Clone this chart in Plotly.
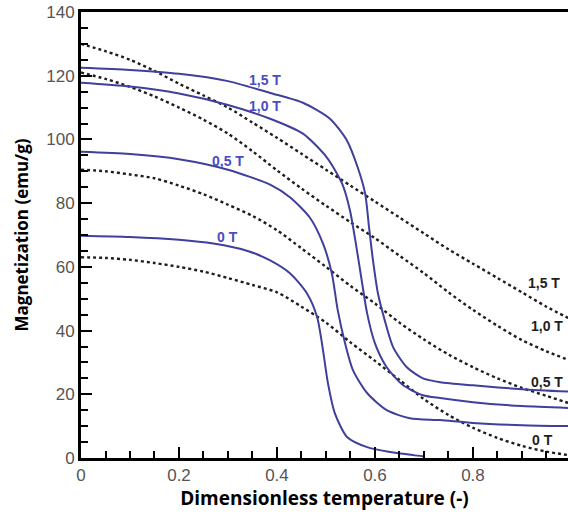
import plotly.graph_objects as go

# ---- data ----
x_s15 = [0, 0.1, 0.2, 0.3, 0.386, 0.453, 0.508, 0.543, 0.565, 0.58, 0.588, 0.596, 0.606, 0.62, 0.637, 0.665, 0.698, 0.733, 0.8, 0.9, 1.0]
y_s15 = [122.5, 121.8, 120.6, 118.3, 114.6, 111.5, 106.5, 99.6, 91.1, 83.0, 72.3, 62.0, 51.7, 43.2, 34.8, 28.5, 25.0, 23.8, 22.8, 21.6, 20.8]

x_s10 = [0, 0.1, 0.2, 0.3, 0.386, 0.453, 0.502, 0.533, 0.549, 0.561, 0.573, 0.584, 0.6, 0.624, 0.657, 0.698, 0.733, 0.8, 0.9, 1.0]
y_s10 = [117.8, 116.6, 114.4, 110.8, 106.5, 101.8, 94.3, 86.1, 77.7, 67.3, 55.7, 45.4, 36.0, 28.5, 22.9, 19.7, 18.8, 17.5, 16.3, 15.7]

x_s05 = [0, 0.1, 0.2, 0.3, 0.386, 0.427, 0.467, 0.494, 0.512, 0.524, 0.539, 0.555, 0.584, 0.624, 0.671, 0.733, 0.8, 0.9, 1.0]
y_s05 = [96.1, 95.4, 93.8, 90.5, 85.8, 81.8, 75.5, 67.3, 57.9, 46.4, 36.0, 27.6, 20.4, 15.0, 12.5, 11.9, 11.0, 10.3, 10.0]

x_s00 = [0, 0.1, 0.2, 0.27, 0.34, 0.386, 0.427, 0.461, 0.482, 0.494, 0.504, 0.518, 0.543, 0.584, 0.631, 0.678, 0.7]
y_s00 = [69.8, 69.4, 68.5, 67.3, 65.0, 62.0, 57.9, 51.7, 44.2, 33.8, 23.5, 14.1, 6.6, 3.4, 1.9, 0.9, 0.5]

x_d = [0, 0.05, 0.1, 0.15, 0.2, 0.25, 0.3, 0.35, 0.4, 0.45, 0.5, 0.55, 0.6, 0.65, 0.7, 0.75, 0.8, 0.85, 0.9, 0.95, 1.0]
y_d15 = [130.0, 127.7, 125.0, 121.5, 117.5, 113.8, 110.0, 105.3, 100.5, 95.5, 90.5, 85.5, 80.5, 75.5, 70.5, 65.5, 61.0, 56.5, 52.0, 47.5, 43.5]
y_d10 = [121.0, 119.0, 116.5, 113.5, 110.0, 106.2, 101.8, 96.3, 90.3, 84.6, 79.2, 74.0, 69.0, 63.5, 58.0, 52.0, 46.5, 41.5, 37.0, 33.5, 30.5]
y_d05 = [90.5, 90.0, 89.0, 87.8, 85.5, 82.8, 79.5, 76.0, 71.5, 65.8, 60.0, 54.0, 48.5, 42.5, 37.2, 32.5, 28.5, 25.0, 22.0, 19.5, 17.0]
y_d00 = [63.0, 62.8, 62.2, 61.2, 60.0, 58.5, 56.5, 54.3, 52.0, 47.5, 42.5, 36.3, 30.5, 24.5, 18.5, 13.5, 9.5, 6.3, 3.8, 2.0, 0.8]

field_labels = ["1,5 T", "1,0 T", "0,5 T", "0 T"]
solid_label_x = [0.376, 0.376, 0.30, 0.298]
solid_label_y = [118.7, 110.5, 93.3, 69.5]
dot_label_x = [0.945, 0.952, 0.952, 0.942]
dot_label_y = [54.8, 41.3, 23.8, 5.6]

x_ticks = [0, 0.2, 0.4, 0.6, 0.8]
x_tick_text = ["0", "0.2", "0.4", "0.6", "0.8"]
y_ticks = [0, 20, 40, 60, 80, 100, 120, 140]

BLUE = "#3f3f9c"
LBLUE = "#4b4bc4"
BLACK = "#1e1e1e"

fig = go.Figure()

solid_sets = [(x_s15, y_s15), (x_s10, y_s10), (x_s05, y_s05), (x_s00, y_s00)]
dot_sets = [y_d15, y_d10, y_d05, y_d00]

for lab, yd in zip(field_labels, dot_sets):
    fig.add_trace(go.Scatter(x=x_d, y=yd, mode="lines", name=lab + " dotted",
                             line=dict(color=BLACK, width=2.4, dash="dot", shape="spline", smoothing=0.8),
                             showlegend=False, hoverinfo="skip"))

for lab, (xs, ys) in zip(field_labels, solid_sets):
    fig.add_trace(go.Scatter(x=xs, y=ys, mode="lines", name=lab,
                             line=dict(color=BLUE, width=2, shape="spline", smoothing=0.7),
                             showlegend=False))

anns = []
for lab, ax, ay in zip(field_labels, solid_label_x, solid_label_y):
    anns.append(dict(x=ax, y=ay, xref="x", yref="y", text="<b>%s</b>" % lab, showarrow=False,
                     font=dict(family="Liberation Sans, Arial", size=14, color=LBLUE)))
for lab, ax, ay in zip(field_labels, dot_label_x, dot_label_y):
    anns.append(dict(x=ax, y=ay, xref="x", yref="y", text="<b>%s</b>" % lab, showarrow=False,
                     font=dict(family="Liberation Sans, Arial", size=14, color=BLACK)))

axis_common = dict(showgrid=False, zeroline=False, showline=True, linecolor="black", linewidth=3,
                   ticks="inside", ticklen=11, tickwidth=2, tickcolor="black", automargin=False,
                   tickfont=dict(family="Liberation Sans, Arial", size=17, color="#555555"))

fig.update_layout(
    width=568, height=514,
    margin=dict(l=81, r=0, t=12, b=56),
    paper_bgcolor="white", plot_bgcolor="white",
    annotations=anns,
    xaxis=dict(range=[0, 0.994], tickvals=x_ticks, ticktext=x_tick_text, mirror=True,
               minor=dict(dtick=0.05, ticks="inside", ticklen=7, tickwidth=1.5, tickcolor="black"),
               title=dict(text="<b>Dimensionless temperature (-)</b>", standoff=4,
                          font=dict(family="Open Sans, Arial", size=19, color="black")),
               **axis_common),
    yaxis=dict(range=[0, 140], tickvals=y_ticks, mirror=False,
               minor=dict(dtick=5, ticks="inside", ticklen=7, tickwidth=1.5, tickcolor="black"),
               title=dict(text="<b>Magnetization (emu/g)</b>", standoff=14,
                          font=dict(family="Open Sans, Arial", size=17, color="black")),
               **axis_common),
)

fig.write_html("out.html", config={"displayModeBar": False},
               post_script="document.body.style.margin='0px';document.body.style.overflow='hidden';")
